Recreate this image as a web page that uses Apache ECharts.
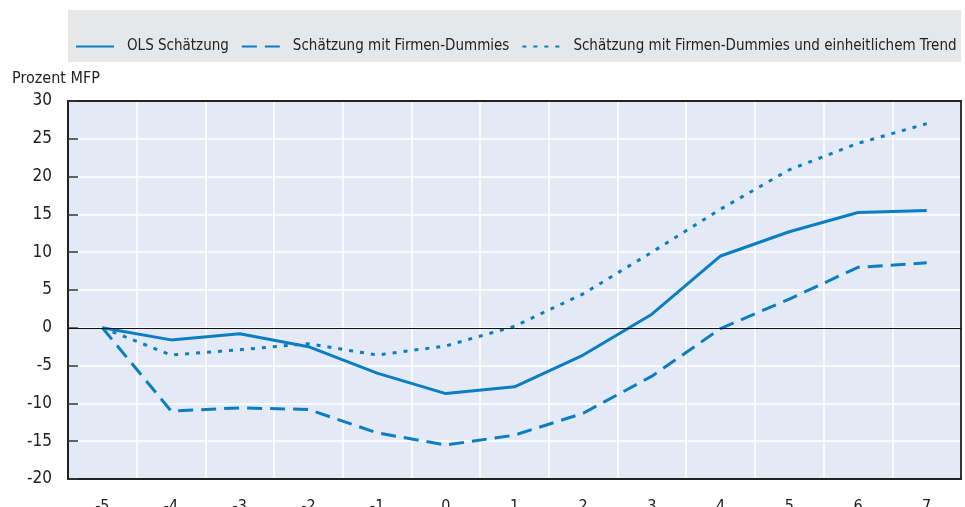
<!DOCTYPE html>
<html><head><meta charset="utf-8">
<script src="https://cdn.jsdelivr.net/npm/echarts@6/dist/echarts.min.js"></script>
<style>html,body{margin:0;padding:0;background:#fff}#c{width:965px;height:507px}</style>
</head><body><div id="c"></div>
<script>
const categories = ['-5','-4','-3','-2','-1','0','1','2','3','4','5','6','7'];
const olsValues = [0, -1.6, -0.8, -2.5, -6.0, -8.7, -7.8, -3.6, 1.8, 9.5, 12.7, 15.25, 15.5];
const dummyValues = [0, -11.0, -10.6, -10.8, -13.9, -15.5, -14.2, -11.3, -6.4, -0.1, 3.8, 8.0, 8.6];
const trendValues = [0, -3.6, -2.9, -2.1, -3.6, -2.4, 0.2, 4.5, 10.0, 15.7, 20.9, 24.4, 27.0];
const seriesNames = ['OLS Schätzung', 'Schätzung mit Firmen-Dummies', 'Schätzung mit Firmen-Dummies und einheitlichem Trend'];
const yTicks = {min: -20, max: 30, interval: 5};
const yTitle = 'Prozent MFP';

const FONT = "'Liberation Sans Narrow', 'Arial Narrow', 'DejaVu Sans Condensed', sans-serif";
const BLUE = '#0b7dc3';
const chart = echarts.init(document.getElementById('c'));
chart.setOption({
  animation: false,
  textStyle: {fontFamily: FONT, color: '#222'},
  graphic: [{type: 'rect', left: 68, top: 10, shape: {width: 893, height: 52}, style: {fill: '#e6e7e9'}, z: -1}],
  legend: {
    left: 70, top: 34, right: 0, itemWidth: 38, itemHeight: 14, itemGap: 12,
    itemStyle: {opacity: 0},
    textStyle: {fontFamily: FONT, fontSize: 15, color: '#222', padding: [0, 0, 0, 8]},
    data: seriesNames
  },
  grid: {left: 68, right: 4, top: 101, bottom: 28, show: true, backgroundColor: '#e3eaf6', borderWidth: 0, outerBoundsMode: 'none', containLabel: false},
  xAxis: [{
    type: 'category', data: categories, boundaryGap: true,
    axisLine: {onZero: false, lineStyle: {color: '#222', width: 2}},
    axisTick: {inside: true, length: 10, lineStyle: {color: '#333', width: 1.5}},
    axisLabel: {fontFamily: FONT, fontSize: 16, color: '#222', margin: 20},
    splitLine: {show: true, lineStyle: {color: '#ffffff', width: 1.5}}
  }, {
    type: 'category', data: categories, position: 'top', boundaryGap: true,
    axisLine: {show: true, onZero: false, lineStyle: {color: '#222', width: 2}},
    axisTick: {show: false}, axisLabel: {show: false}, splitLine: {show: false}
  }],
  yAxis: [{
    type: 'value', min: yTicks.min, max: yTicks.max, interval: yTicks.interval,
    name: yTitle, nameLocation: 'end', nameGap: 14,
    nameTextStyle: {fontFamily: FONT, fontSize: 16, color: '#222', align: 'left', padding: [0, 0, 0, -56]},
    axisLine: {show: true, onZero: false, lineStyle: {color: '#222', width: 2}},
    axisTick: {show: true, inside: true, length: 10, lineStyle: {color: '#333', width: 1.5}},
    axisLabel: {fontFamily: FONT, fontSize: 17, color: '#222', margin: 16},
    splitLine: {show: true, lineStyle: {color: '#ffffff', width: 1.5}}
  }, {
    type: 'value', min: yTicks.min, max: yTicks.max, interval: yTicks.interval, position: 'right',
    axisLine: {show: true, onZero: false, lineStyle: {color: '#333', width: 2}},
    axisTick: {show: false}, axisLabel: {show: false}, splitLine: {show: false}
  }],
  series: [
    {name: seriesNames[0], type: 'line', data: olsValues, symbol: 'none', lineStyle: {color: BLUE, width: 3, type: 'solid'}, itemStyle: {color: BLUE}, z: 3,
     markLine: {silent: true, symbol: 'none', label: {show: false}, lineStyle: {color: '#111', width: 1, type: 'solid'}, data: [{yAxis: 0}]}},
    {name: seriesNames[1], type: 'line', data: dummyValues, symbol: 'none', lineStyle: {color: BLUE, width: 3, type: [15, 8]}, itemStyle: {color: BLUE}, z: 3},
    {name: seriesNames[2], type: 'line', data: trendValues, symbol: 'none', lineStyle: {color: BLUE, width: 3, type: [4, 7]}, itemStyle: {color: BLUE}, z: 3}
  ]
});
</script></body></html>
